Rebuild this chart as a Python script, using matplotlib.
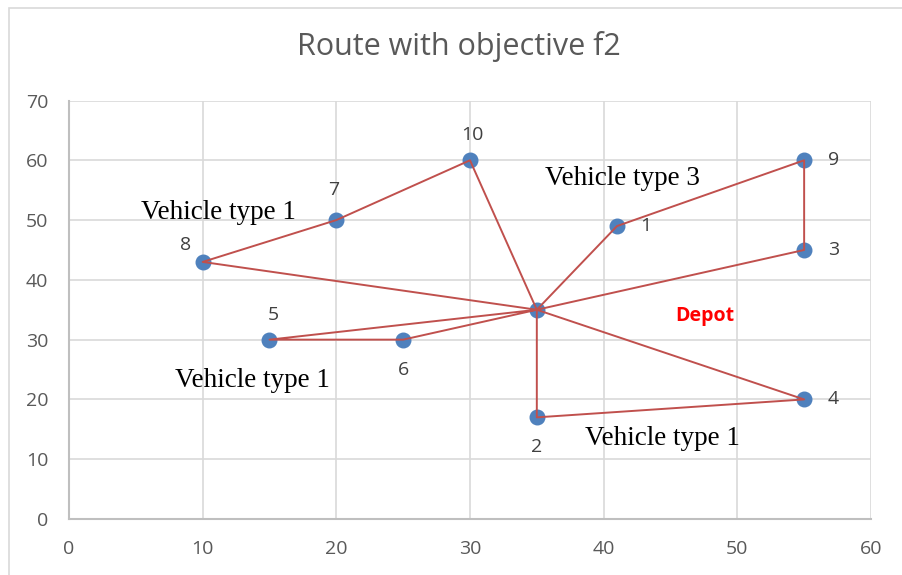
import matplotlib.pyplot as plt
from matplotlib.patches import Rectangle

# customer coordinates (node 0 is the depot)
node_ids = [0, 1, 2, 3, 4, 5, 6, 7, 8, 9, 10]
xs = [35, 41, 35, 55, 55, 15, 25, 20, 10, 55, 30]
ys = [35, 49, 17, 45, 20, 30, 30, 50, 43, 60, 60]

# routes as node sequences
routes = [
    [0, 1, 9, 3, 0],
    [0, 8, 7, 10, 0],
    [0, 5, 6, 0],
    [0, 2, 4, 0],
]

# vehicle annotations: text, x, y
vehicle_texts = ["Vehicle type 1", "Vehicle type 1", "Vehicle type 3", "Vehicle type 1"]
vehicle_x = [11.2, 13.7, 41.4, 44.4]
vehicle_y = [51.3, 23.2, 57.0, 13.5]

# node label offsets in points (dx, dy)
label_offsets = {
    1: (21, 0), 2: (0, -21), 3: (21, 0), 4: (21, 0), 5: (3, 18),
    6: (0, -22), 7: (-2, 22), 8: (-12, 12), 9: (21, 0), 10: (2, 18),
}

fig = plt.figure(figsize=(9.02, 5.75), dpi=100)
ax = fig.add_axes([0.0765, 0.0974, 0.8891, 0.7278])

# chart area border
fig.patches.append(Rectangle((8.5 / 902, -0.1), 1.2, 1.0 - 7.5 / 575 + 0.1,
                             transform=fig.transFigure, fill=False,
                             edgecolor="#D9D9D9", linewidth=1.2))

ax.scatter(xs, ys, s=110, color="#4F81BD", zorder=3)
for r in routes:
    ax.plot([xs[i] for i in r], [ys[i] for i in r], color="#C0504D",
            linewidth=1.4, zorder=4)

for i in node_ids[1:]:
    dx, dy = label_offsets[i]
    ax.annotate(str(i), (xs[i], ys[i]), xytext=(dx, dy), textcoords="offset points",
                ha="center", va="center", fontsize=14, color="#404040",
                family="Open Sans")

for t, x, y in zip(vehicle_texts, vehicle_x, vehicle_y):
    ax.text(x, y, t, ha="center", va="center", fontsize=19.5,
            family="Liberation Serif", color="black")

ax.text(47.6, 33.9, "Depot", ha="center", va="center", fontsize=14,
        fontweight="bold", color="red", family="Open Sans")

ax.set_xlim(0, 60)
ax.set_ylim(0, 70)
ax.set_xticks(range(0, 61, 10))
ax.set_yticks(range(0, 71, 10))
ax.grid(True, color="#D9D9D9", linewidth=1.2)
ax.set_axisbelow(True)
for s in ["top", "right"]:
    ax.spines[s].set_visible(False)
for s in ["left", "bottom"]:
    ax.spines[s].set_color("#BFBFBF")
    ax.spines[s].set_linewidth(1.5)
ax.tick_params(axis="x", length=0, labelsize=14, labelcolor="#595959", pad=15)
ax.tick_params(axis="y", length=0, labelsize=14, labelcolor="#595959", pad=15)
for lab in ax.get_xticklabels() + ax.get_yticklabels():
    lab.set_family("Open Sans")

fig.text(0.509, 1 - 47 / 575, "Route with objective f2", ha="center", va="center",
         fontsize=22, color="#595959", family="Open Sans")

fig.savefig("out.png", dpi=100)
